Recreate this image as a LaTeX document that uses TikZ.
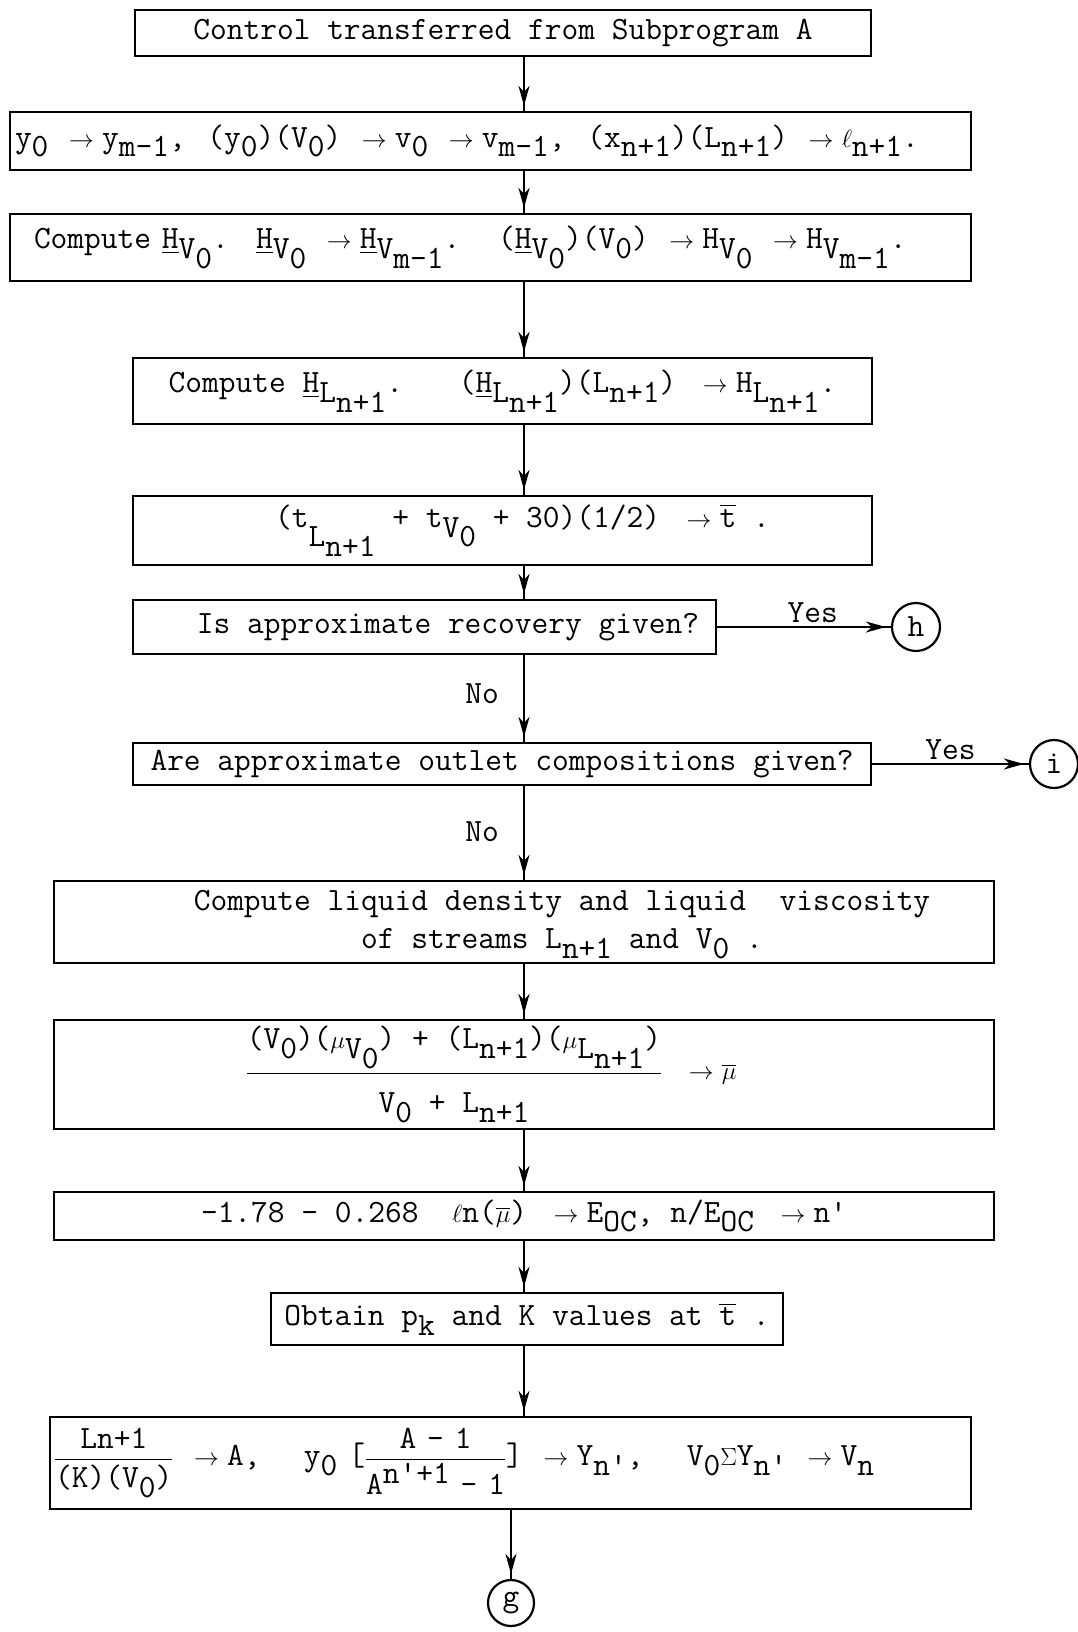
\documentclass[tikz,border=0pt]{standalone}
\usepackage{amsmath}
\usetikzlibrary{arrows.meta,decorations.markings}
\newcommand\sdn[1]{\raisebox{-0.3em}{#1}}
\newcommand\sdnn[1]{\raisebox{-0.6em}{#1}}
\newcommand\myup[1]{\raisebox{0.35em}{#1}}
\newcommand\toar{\hspace{0.3em}$\rightarrow$\hspace{0.25em}}
\newcommand\uH{\underline{H}}
\newcommand\tbar{$\overline{\hbox{t}}$}
\newcommand\mubar{$\overline{\mu}$}
\tikzset{
  box/.style={draw, line width=2.2pt, rectangle, inner sep=0pt, font=\ttfamily\fontsize{32.5}{38}\selectfont},
  flow/.style={line width=2.2pt, postaction={decorate}, decoration={markings, mark=at position -5pt with {\arrow{Stealth[length=20pt,width=11pt,inset=6pt]}}}},
  conn/.style={draw, circle, line width=2.2pt, minimum size=48pt, inner sep=0pt, font=\ttfamily\fontsize{32.5}{38}\selectfont},
  lbl/.style={font=\ttfamily\fontsize{32.5}{38}\selectfont, inner sep=3pt},
}
\begin{document}
\begin{tikzpicture}[x=1pt,y=-1pt]
\useasboundingbox (0,0) rectangle (1077,1632);
\coordinate (xl) at (524,0);
\node[box, minimum width=736pt, minimum height=46pt] (b1) at (503,33) {Control transferred from Subprogram A};
\node[box, text width=951pt, inner xsep=5pt, align=left, minimum height=58pt] (b2) at (490.5,141)
 {y\sdn{0} \toar y\sdn{m-1},~ (y\sdn{0})(V\sdn{0}) \toar v\sdn{0} \toar v\sdn{m-1},~ (x\sdn{n+1})(L\sdn{n+1}) \toar $\ell$\sdn{n+1}.};
\node[box, text width=961pt, align=left, minimum height=67pt] (b3) at (490.5,247.5)
 {\hspace*{24pt}Compute \uH\sdn{V\sdn{0}}.~ \uH\sdn{V\sdn{0}} \toar \uH\sdn{V\sdn{m-1}}.~~ (\uH\sdn{V\sdn{0}})(V\sdn{0}) \toar H\sdn{V\sdn{0}} \toar H\sdn{V\sdn{m-1}}.};
\node[box, minimum width=739pt, minimum height=66pt] (b4) at (502.5,391)
 {Compute \uH\sdn{L\sdn{n+1}}.~~ (\uH\sdn{L\sdn{n+1}})(L\sdn{n+1}) \toar H\sdn{L\sdn{n+1}}.};
\node[box, minimum width=739pt, minimum height=69pt] (b5) at (502.5,530.5)
 {\hspace*{40pt}(t\sdnn{L\sdn{n+1}} + t\sdn{V\sdn{0}} + 30)(1/2) \toar\tbar{} .};
\node[box, minimum width=583pt, minimum height=54pt] (b6) at (424.5,627)
 {\hspace*{47pt}Is approximate recovery given?};
\node[box, minimum width=738pt, minimum height=42pt] (b7) at (502,764)
 {Are approximate outlet compositions given?};
\node[box, minimum width=940pt, minimum height=82pt] (b8) at (524,922)
 {\hspace*{76pt}\begin{tabular}{@{}c@{}}Compute liquid density and liquid~ viscosity\\ of streams L\sdn{n+1} and V\sdn{0} .\end{tabular}};
\node[box, minimum width=940pt, minimum height=109pt] (b9) at (524,1074.5)
 {$\genfrac{}{}{1.5pt}{0}{\hbox{(V\sdn{0})($\mu$\sdn{V\sdn{0}}) + (L\sdn{n+1})($\mu$\sdn{L\sdn{n+1}})}}{\hbox{\rule{0pt}{34pt}V\sdn{0} + L\sdn{n+1}}}$ \toar \mubar\hspace*{66pt}};
\node[box, minimum width=940pt, minimum height=48pt] (b10) at (524,1216)
 {-1.78 - 0.268~ $\ell$n(\mubar) \toar E\sdn{OC}, n/E\sdn{OC} \toar n'};
\node[box, minimum width=512pt, minimum height=52pt] (b11) at (527,1319)
 {Obtain p\sdn{k} and K values at \tbar{} .};
\node[box, text width=913pt, inner xsep=4pt, align=left, minimum height=92pt] (b12) at (510.5,1463)
 {$\genfrac{}{}{1.5pt}{0}{\hbox{Ln+1}}{\hbox{(K)(V\sdn{0})}}$ \toar A,~~~ y\sdn{0} [$\genfrac{}{}{1pt}{0}{\hbox{A - 1}}{\hbox{A\myup{n'+1} - 1}}$] \toar Y\sdn{n'},~~~ V\sdn{0}$\Sigma$Y\sdn{n'} \toar V\sdn{n}};
\node[conn] (h) at (916,627) {h};
\node[conn] (i) at (1054,764) {i};
\node[conn, minimum size=46pt] (g) at (511,1603) {g};
\node[lbl] (no1) at (482,694) {No};
\node[lbl] (no2) at (482,832) {No};
\foreach \a/\b in {b1/b2,b2/b3,b3/b4,b4/b5,b5/b6,b6/b7,b7/b8,b8/b9,b9/b10,b10/b11,b11/b12}
  \draw[flow] (\a.south -| xl) -- (\b.north -| xl);
\draw[flow] (b12.south -| g.north) -- (g.north);
\draw[flow] (b6.east) -- node[lbl, above, pos=0.55] {Yes} (h.west);
\draw[flow] (b7.east) -- node[lbl, above] {Yes} (i.west);
\end{tikzpicture}
\end{document}
